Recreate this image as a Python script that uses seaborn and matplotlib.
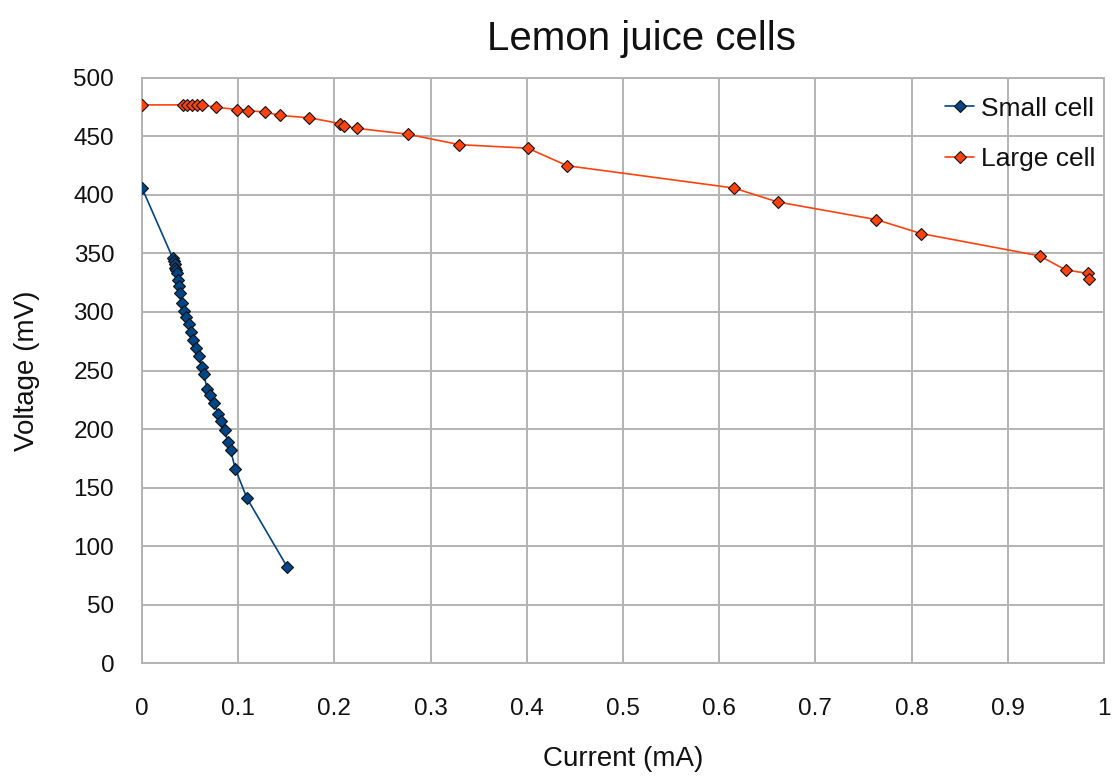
import matplotlib
matplotlib.use("Agg")
import matplotlib.pyplot as plt
import matplotlib.ticker as ticker
import pandas as pd
import seaborn as sns

# small cell: current (mA) vs voltage (mV)
small_current = [0.000, 0.032, 0.033, 0.034, 0.034, 0.035, 0.036, 0.037, 0.038, 0.040,
                 0.042, 0.044, 0.046, 0.049, 0.051, 0.053, 0.056, 0.059, 0.062, 0.064,
                 0.068, 0.071, 0.075, 0.079, 0.082, 0.086, 0.089, 0.092, 0.097, 0.109, 0.151]
small_voltage = [406, 346, 344, 341, 338, 336, 333, 327, 322, 316,
                 308, 301, 296, 290, 283, 276, 269, 262, 253, 247,
                 234, 229, 222, 213, 207, 199, 189, 182, 166, 141, 82]

# large cell
large_current = [0.000, 0.043, 0.047, 0.052, 0.057, 0.062, 0.077, 0.099, 0.110, 0.128,
                 0.143, 0.174, 0.206, 0.210, 0.223, 0.276, 0.330, 0.401, 0.442, 0.615,
                 0.661, 0.763, 0.810, 0.933, 0.960, 0.983, 0.984]
large_voltage = [477, 477, 477, 477, 477, 477, 475, 473, 472, 471,
                 468, 466, 461, 459, 457, 452, 443, 440, 425, 406,
                 394, 379, 367, 348, 336, 333, 328]

x_ticks = [0, 0.1, 0.2, 0.3, 0.4, 0.5, 0.6, 0.7, 0.8, 0.9, 1]
y_ticks = [0, 50, 100, 150, 200, 250, 300, 350, 400, 450, 500]

GRID = '#b3b3b3'

sns.set_theme(style='whitegrid')
plt.rcParams['font.family'] = ['Liberation Sans', 'DejaVu Sans']

fig = plt.figure(figsize=(11.12, 7.76), dpi=100)
ax = fig.add_subplot(111)
plt.subplots_adjust(left=0.1277, right=0.9928, bottom=0.1456, top=0.8995)

small = pd.DataFrame({'current': small_current, 'voltage': small_voltage})
large = pd.DataFrame({'current': large_current, 'voltage': large_voltage})

sns.lineplot(data=small, x='current', y='voltage', sort=False, estimator=None,
             color='#004586', lw=1.2, marker='D', ms=6.5, mec='#111111', mew=0.8,
             label='Small cell', ax=ax, zorder=3)
sns.lineplot(data=large, x='current', y='voltage', sort=False, estimator=None,
             color='#ff420e', lw=1.2, marker='D', ms=6.5, mec='#111111', mew=0.8,
             label='Large cell', ax=ax, zorder=3)

ax.set_xlim(0, 1)
ax.set_ylim(0, 500)
ax.set_xticks(x_ticks)
ax.set_yticks(y_ticks)
ax.xaxis.set_major_formatter(ticker.FormatStrFormatter('%g'))
ax.grid(True, color=GRID, lw=1.4)
for s in ax.spines.values():
    s.set_color(GRID)
    s.set_linewidth(1.4)
ax.tick_params(axis='both', which='major', direction='out', length=11, width=1.4,
               color=GRID, labelsize=17.5, labelcolor='#111111')
ax.tick_params(axis='x', pad=14)
ax.tick_params(axis='y', pad=9)

ax.set_xlabel('Current (mA)', fontsize=20, color='#111111')
ax.set_ylabel('Voltage (mV)', fontsize=20, color='#111111')
ax.xaxis.set_label_coords(0.5, -0.142)
ax.yaxis.set_label_coords(-0.106, 0.5)

ax.set_title('Lemon juice cells', fontsize=29, color='#111111', x=0.519, pad=20)

leg = ax.legend(loc='upper left', bbox_to_anchor=(0.835, 0.968), frameon=False,
                fontsize=19, borderpad=0, borderaxespad=0, handlelength=1.1,
                handletextpad=0.25, labelspacing=1.0)
for t in leg.get_texts():
    t.set_color('#111111')

plt.savefig('out.png', dpi=100)
